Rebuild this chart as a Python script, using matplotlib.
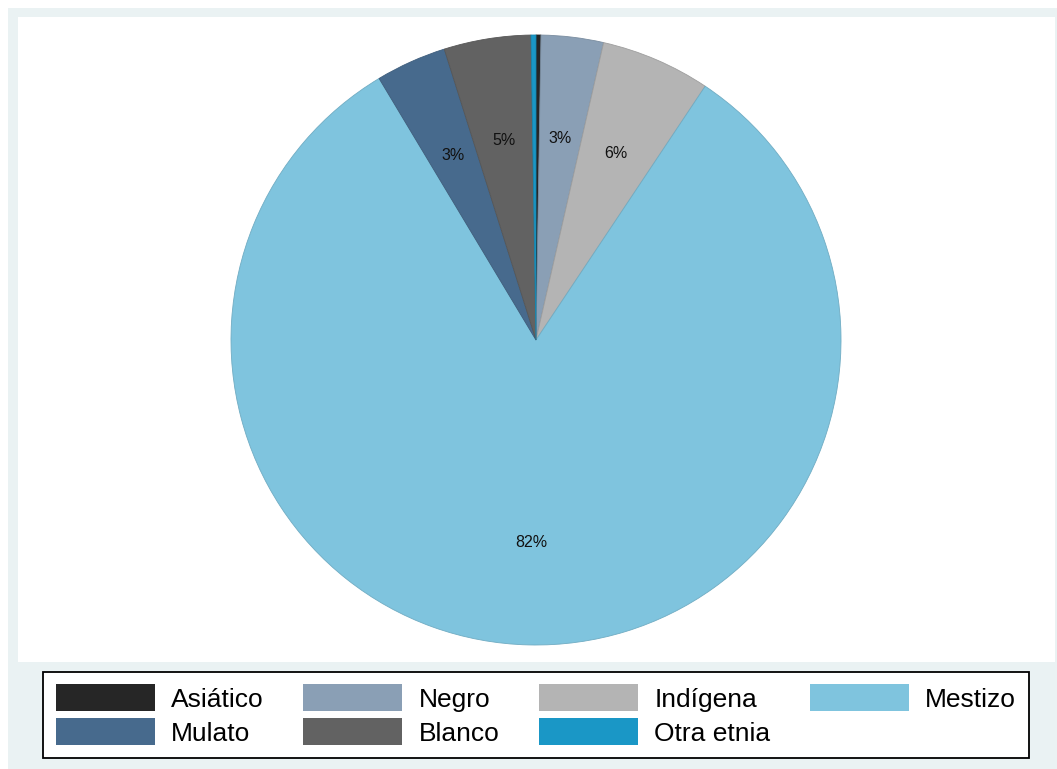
import matplotlib
matplotlib.use("Agg")
import matplotlib.pyplot as plt
from matplotlib.patches import Rectangle
from matplotlib.colors import to_rgb
import numpy as np

# ---- data ----
categories = ["Asiático", "Negro", "Indígena", "Mestizo", "Mulato", "Blanco", "Otra etnia"]
shares = [0.26, 3.3, 5.8, 82.04, 3.74, 4.6, 0.26]
pct_labels = ["", "3%", "6%", "82%", "3%", "5%", ""]
colors = ["#262626", "#8A9FB5", "#B4B4B4", "#7FC4DE", "#476A8D", "#626262", "#1A97C6"]
legend_order = ["Asiático", "Mulato", "Negro", "Blanco", "Indígena", "Otra etnia", "Mestizo"]

plt.rcParams['font.family'] = ['Liberation Sans', 'DejaVu Sans']

W, H = 1057, 769
fig = plt.figure(figsize=(W / 100, H / 100), dpi=100, facecolor="white")

def px(x0, y0, x1, y1):
    return (x0 / W, 1 - y1 / H, (x1 - x0) / W, (y1 - y0) / H)

# outer graph region (light gray) and inner plot region (white)
l, b, w, h = px(8, 8, 1057, 769)
fig.patches.append(Rectangle((l, b), w, h, transform=fig.transFigure,
                             facecolor="#EAF2F3", edgecolor="none", zorder=-2))
l, b, w, h = px(18, 17, 1055, 662)
fig.patches.append(Rectangle((l, b), w, h, transform=fig.transFigure,
                             facecolor="white", edgecolor="none", zorder=-1))

# pie
cx, cy, r = 536, 340, 305
ax = fig.add_axes(px(cx - r, cy - r, cx + r, cy + r))
ax.set_zorder(2)
ax.set_facecolor("none")

def darker(c, f=0.88):
    return tuple(v * f for v in to_rgb(c))

wedges, _ = ax.pie(shares, colors=colors, startangle=90, counterclock=False,
                   radius=1.0, center=(0, 0),
                   wedgeprops=dict(linewidth=0.6))
for wd, c in zip(wedges, colors):
    wd.set_edgecolor(darker(c))

cum = 0.0
total = sum(shares)
for s, lab in zip(shares, pct_labels):
    mid = (cum + s / 2) / total
    cum += s
    if not lab:
        continue
    ang = np.deg2rad(90 - 360 * mid)
    ax.text(0.664 * np.cos(ang), 0.664 * np.sin(ang), lab, ha="center", va="center",
            fontsize=11.5, color="#111111")
ax.set_xlim(-1, 1)
ax.set_ylim(-1, 1)
ax.set_aspect("equal")
ax.axis("off")

# legend
handle_map = dict(zip(categories, wedges))
handles = [Rectangle((0, 0), 1, 1, facecolor=handle_map[k].get_facecolor(),
                     edgecolor="none") for k in legend_order]
lx0, ly0, lx1, ly1 = 40, 672, 1032, 758
leg = fig.legend(handles, legend_order, ncol=4, loc="center",
                 bbox_to_anchor=((lx0 + lx1) / 2 / W, 1 - (ly0 + ly1) / 2 / H),
                 bbox_transform=fig.transFigure,
                 fontsize=19, frameon=True, fancybox=False, framealpha=1,
                 edgecolor="black", facecolor="white",
                 handlelength=3.75, handleheight=1.2, handletextpad=0.62,
                 columnspacing=1.5, labelspacing=0.25, borderpad=0.48,
                 borderaxespad=0)
leg.set_zorder(3)
leg.get_frame().set_linewidth(1.3)

fig.savefig("out.png", dpi=100, facecolor="white")
